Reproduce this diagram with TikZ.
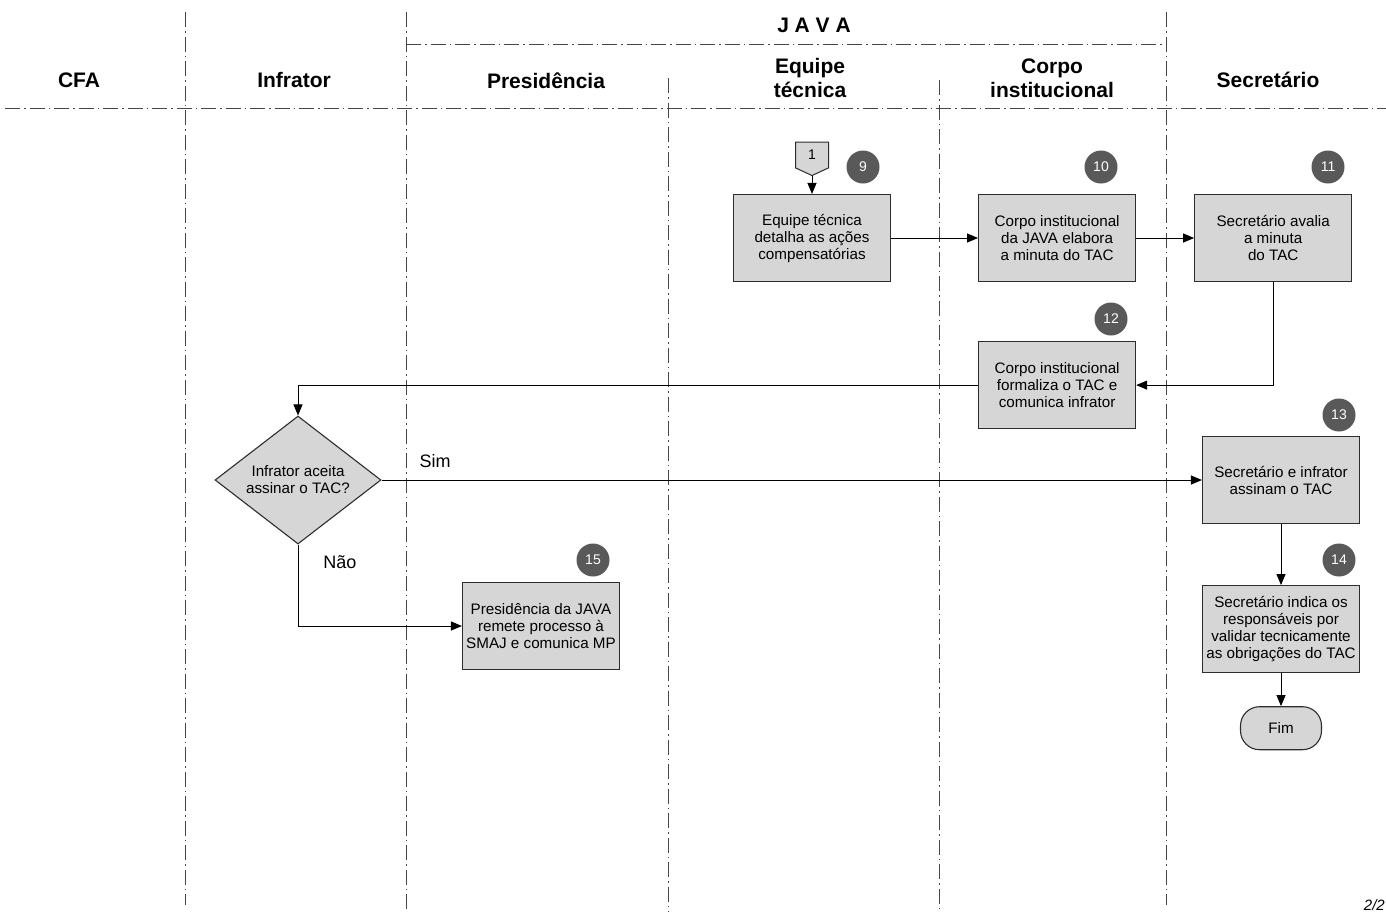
\documentclass[tikz,border=0pt]{standalone}
\usepackage{fontspec}
\setmainfont{Liberation Sans}
\usepackage{xcolor}
\usetikzlibrary{positioning,arrows.meta,shapes.geometric,shapes.symbols}
\definecolor{taskfill}{RGB}{214,214,214}
\definecolor{taskborder}{RGB}{45,45,45}
\definecolor{stepfill}{RGB}{89,89,89}
\definecolor{laneline}{RGB}{70,70,70}

\begin{document}
\begin{tikzpicture}[
        x=1pt, y=-1pt,
        >={Triangle[length=11pt,width=9pt]},
        task/.style={
                rectangle, draw=taskborder, line width=1.1pt, fill=taskfill,
                minimum width=157pt, minimum height=87pt,
                inner sep=1pt, align=center,
                font=\fontsize{15.2}{17}\selectfont
            },
        decision/.style={
                diamond, draw=taskborder, line width=1.1pt, fill=taskfill,
                minimum width=166pt, minimum height=128pt, aspect=1.3,
                inner sep=0pt, align=center,
                font=\fontsize{15.2}{17}\selectfont
            },
        terminal/.style={
                task, rounded corners=19pt,
                minimum width=81pt, minimum height=43pt
            },
        offpage/.style={
                signal, signal to=south, signal from=nowhere,
                signal pointer angle=130,
                draw=taskborder, line width=1pt, fill=taskfill,
                minimum width=33pt, minimum height=28pt, inner sep=1pt,
                font=\fontsize{14}{16}\selectfont
            },
        stepnum/.style={
                circle, fill=stepfill, text=white,
                minimum size=33pt, inner sep=0pt,
                font=\fontsize{14}{16}\selectfont
            },
        lanehead/.style={align=center, font=\fontsize{21}{24}\selectfont\bfseries},
        lane/.style={draw=laneline, line width=0.8pt,
                dash pattern=on 15pt off 4pt on 1.5pt off 4pt},
        flow/.style={->, line width=1pt, draw=black},
        flowlabel/.style={font=\fontsize{18}{20}\selectfont}
    ]

    \useasboundingbox (0,0) rectangle (1386,914);

    % ===== Swimlane grid =====
    \foreach \x/\top/\bot in {185/12/905, 406/12/912, 668/78/912, 939/80/912, 1166/12/905}
        \draw[lane] (\x,\top) -- (\x,\bot);
    \draw[lane] (5,108) -- (1386,108);
    \draw[lane] (406,44) -- (1166,44);

    % ===== Lane headers =====
    \node[lanehead] (hjava) at (814,25) {J A V A};
    \node[lanehead] (hcfa) at (79,80) {CFA};
    \node[lanehead] (hinfrator) at (294,80) {Infrator};
    \node[lanehead] (hpresid) at (546,81) {Presidência};
    \node[lanehead] (hequipe) at (810,78) {Equipe\\técnica};
    \node[lanehead] (hcorpo) at (1052,78) {Corpo\\institucional};
    \node[lanehead] (hsecret) at (1268,80) {Secretário};

    % ===== Tasks =====
    \node[offpage] (ref1) at (812,155) {1};
    \node[task] (detalha) at (812,238) {Equipe técnica\\detalha as ações\\compensatórias};
    \node[task, right=87pt of detalha] (elabora) {Corpo institucional\\da JAVA elabora\\a minuta do TAC};
    \node[task, right=58pt of elabora] (avalia) {Secretário avalia\\a minuta\\do TAC};
    \node[task, below=59pt of elabora] (formaliza) {Corpo institucional\\formaliza o TAC e\\comunica infrator};

    \node[decision] (aceita) at (298,480) {Infrator aceita\\assinar o TAC?};
    \node[task] (assinam) at (1281,480) {Secretário e infrator\\assinam o TAC};
    \node[task, below=61pt of assinam] (indica) {Secretário indica os\\responsáveis por\\validar tecnicamente\\as obrigações do TAC};
    \node[terminal, below=33pt of indica] (fim) {Fim};
    \node[task] (remete) at (541,626) {Presidência da JAVA\\remete processo à\\SMAJ e comunica MP};

    % ===== Step numbers =====
    \node[stepnum] (n9) at (863,167) {9};
    \node[stepnum] (n10) at (1101,167) {10};
    \node[stepnum] (n11) at (1328,167) {11};
    \node[stepnum] (n12) at (1111,319) {12};
    \node[stepnum] (n13) at (1339,415) {13};
    \node[stepnum] (n14) at (1339,560) {14};
    \node[stepnum] (n15) at (593,560) {15};

    % ===== Flow =====
    \draw[flow] (ref1.south) -- (detalha.north);
    \draw[flow] (detalha) -- (elabora);
    \draw[flow] (elabora) -- (avalia);
    \draw[flow] (avalia.south) |- (formaliza.east);
    \draw[flow] (formaliza.west) -| (aceita.north);
    \draw[flow] (aceita.east) -- (assinam.west);
    \draw[flow] (aceita.south) |- (remete.west);
    \draw[flow] (assinam) -- (indica);
    \draw[flow] (indica) -- (fim);

    % ===== Decision labels =====
    \node[flowlabel] (sim) at (435,461) {Sim};
    \node[flowlabel] (nao) at (340,562) {Não};

    % page counter
    \node[anchor=south east, inner sep=1pt, font=\fontsize{15}{17}\selectfont\itshape] (pagina) at (1386,912) {2/2};

\end{tikzpicture}
\end{document}
